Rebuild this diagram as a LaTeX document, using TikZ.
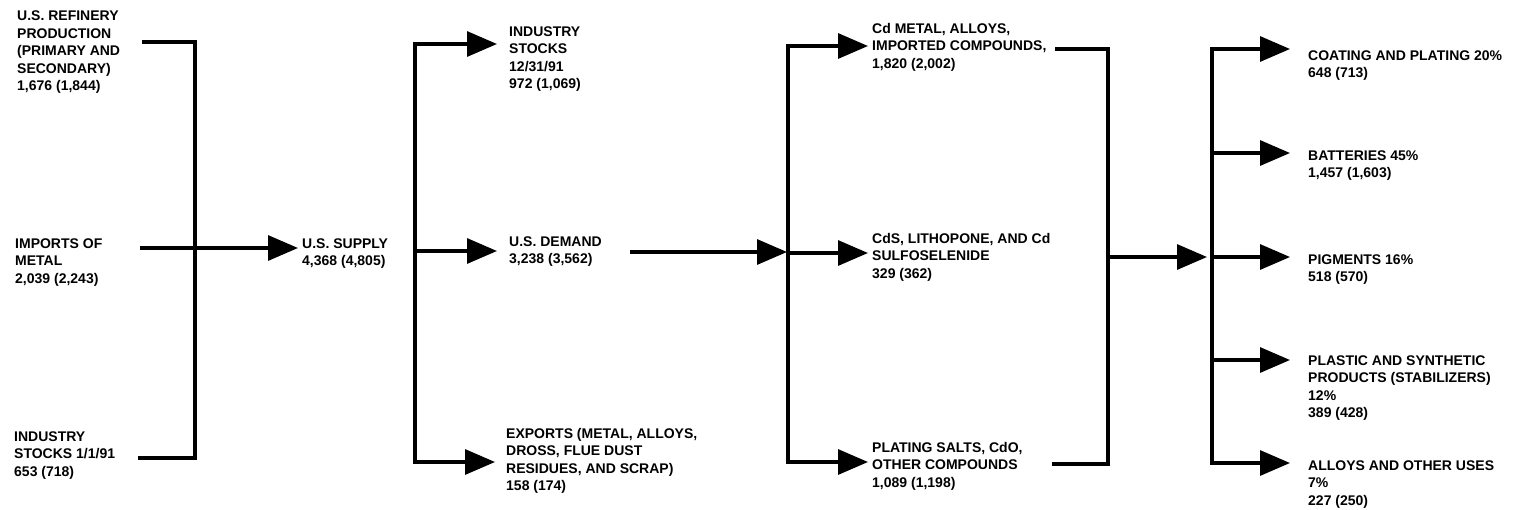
\documentclass[tikz,border=0pt]{standalone}
\usepackage{fontspec}
\setmainfont{Liberation Sans}
\usetikzlibrary{arrows.meta}
\begin{document}
\begin{tikzpicture}[x=1pt,y=-1pt,
  lbl/.style={anchor=base west,inner sep=0pt,align=left,font=\bfseries\fontsize{14}{17.5}\selectfont},
  ln/.style={line width=3.2pt},
  arr/.style={line width=3.2pt,-{Triangle[length=30pt,width=25pt]}}]
\useasboundingbox (0,0) rectangle (1513,509);
% labels (positioned at the baseline of their last line)
\node[lbl] (refin) at (17,90.5) {U.S. REFINERY\\PRODUCTION\\(PRIMARY AND\\SECONDARY)\\1,676 (1,844)};
\node[lbl] (imports) at (15,283) {IMPORTS OF\\METAL\\2,039 (2,243)};
\node[lbl] (stk1) at (14,476) {INDUSTRY\\STOCKS 1/1/91\\653 (718)};
\node[lbl] (supply) at (302,265.5) {U.S. SUPPLY\\4,368 (4,805)};
\node[lbl] (stk2) at (509,88.5) {INDUSTRY\\STOCKS\\12/31/91\\972 (1,069)};
\node[lbl] (demand) at (509,263.5) {U.S. DEMAND\\3,238 (3,562)};
\node[lbl] (exports) at (506,490.5) {EXPORTS (METAL, ALLOYS,\\DROSS, FLUE DUST\\RESIDUES, AND SCRAP)\\158 (174)};
\node[lbl] (cdmetal) at (872,68) {Cd METAL, ALLOYS,\\IMPORTED COMPOUNDS,\\1,820 (2,002)};
\node[lbl] (cds) at (872,278) {CdS, LITHOPONE, AND Cd\\SULFOSELENIDE\\329 (362)};
\node[lbl] (plating) at (872,487) {PLATING SALTS, CdO,\\OTHER COMPOUNDS\\1,089 (1,198)};
\node[lbl] (coat) at (1308,77.5) {COATING AND PLATING 20\%\\648 (713)};
\node[lbl] (batt) at (1308,177.5) {BATTERIES 45\%\\1,457 (1,603)};
\node[lbl] (pigm) at (1308,281.5) {PIGMENTS 16\%\\518 (570)};
\node[lbl] (plast) at (1308,417.5) {PLASTIC AND SYNTHETIC\\PRODUCTS (STABILIZERS)\\12\%\\389 (428)};
\node[lbl] (alloys) at (1308,505) {ALLOYS AND OTHER USES\\7\%\\227 (250)};
% bracket 1
\coordinate (a1) at (142,42);
\coordinate (a2) at (195,42);
\coordinate (a3) at (195,458);
\coordinate (a4) at (138,458);
\coordinate (am) at (140,248);
\coordinate (amt) at (298,248);
\draw[ln] (a1) -- (a2) -- (a3) -- (a4);
\draw[arr] (am) -- (amt);
% bracket 2
\coordinate (b1) at (415,44);
\coordinate (bm) at (415,251);
\coordinate (b2) at (415,462);
\coordinate (b1t) at (497,44);
\coordinate (bmt) at (497,251);
\coordinate (b2t) at (495,462);
\draw[ln,line cap=rect] (b1) -- (b2);
\draw[arr] (b1) -- (b1t);
\draw[arr] (bm) -- (bmt);
\draw[arr] (b2) -- (b2t);
% demand to bracket 3
\coordinate (ds) at (630,252);
\coordinate (dt) at (787,252);
\draw[arr] (ds) -- (dt);
% bracket 3
\coordinate (c1) at (788,46);
\coordinate (cm) at (788,253);
\coordinate (c2) at (788,462);
\coordinate (c1t) at (868,46);
\coordinate (cmt) at (868,253);
\coordinate (c2t) at (868,462);
\draw[ln,line cap=rect] (c1) -- (c2);
\draw[arr] (c1) -- (c1t);
\draw[arr] (cm) -- (cmt);
\draw[arr] (c2) -- (c2t);
% bracket 4
\coordinate (d1) at (1055,49);
\coordinate (d2) at (1108,49);
\coordinate (d3) at (1108,464);
\coordinate (d4) at (1052,464);
\coordinate (dm) at (1108,257);
\coordinate (dmt) at (1207,257);
\draw[ln] (d1) -- (d2) -- (d3) -- (d4);
\draw[arr] (dm) -- (dmt);
% bracket 5
\coordinate (e1) at (1212,49);
\coordinate (e2) at (1212,153);
\coordinate (e3) at (1212,257);
\coordinate (e4) at (1212,360);
\coordinate (e5) at (1212,463);
\draw[ln,line cap=rect] (e1) -- (e5);
\foreach \i in {1,...,5} {
  \draw[arr] (e\i) -- ++(78,0);
}
\end{tikzpicture}
\end{document}
